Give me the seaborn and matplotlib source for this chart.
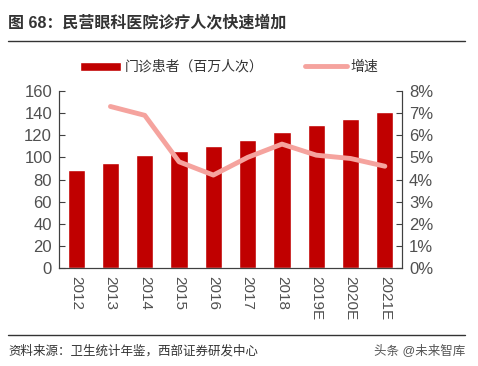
import matplotlib
matplotlib.use("Agg")
from matplotlib import pyplot as plt
import seaborn as sns
import pandas as pd
import numpy as np

years = ["2012", "2013", "2014", "2015", "2016", "2017", "2018", "2019E", "2020E", "2021E"]
visits = [89, 95, 102, 106, 110, 116, 123, 129, 135, 141]
growth = [np.nan, 7.3, 6.9, 4.8, 4.2, 5.0, 5.6, 5.1, 4.95, 4.6]

sns.set_style("white")
plt.rcParams["font.family"] = ["Liberation Sans", "Noto Sans CJK SC", "DejaVu Sans"]

df = pd.DataFrame({"year": years, "visits": visits, "growth": growth})

fig = plt.figure(figsize=(4.78, 3.66), dpi=100)
ax = fig.add_axes([59 / 478, 1 - 268 / 366, 343 / 478, 177 / 366])

sns.barplot(data=df, x="year", y="visits", color="#C00000", saturation=1,
            width=0.5, ax=ax, label="门诊患者（百万人次）")
ax2 = ax.twinx()
pos = np.arange(len(years))
sns.lineplot(x=pos, y=df["growth"], color="#F5A39E", linewidth=3.5, ax=ax2,
             label="增速", legend=False)

ax.set_xlim(-0.5, 9.5)
ax.set_ylim(0, 160)
ax.set_yticks(range(0, 161, 20))
ax2.set_ylim(0, 8)
ax2.set_yticks(range(0, 9))
ax2.set_yticklabels([f"{v}%" for v in range(0, 9)])
ax.set_xlabel("")
ax.set_ylabel("")
ax2.set_ylabel("")

tick_col = "#505050"
ax.set_xticks(pos)
ax.set_xticklabels(years, rotation=270, fontsize=11, color=tick_col)
ax.set_xticks(pos[:-1] + 0.5, minor=True)
ax.tick_params(axis="x", which="major", length=0, pad=6)
ax.tick_params(axis="x", which="minor", direction="in", length=4, color="#404040")
ax.tick_params(axis="y", direction="in", length=4, left=True, labelsize=12,
               labelcolor=tick_col, color="#404040", pad=5)
ax2.tick_params(axis="y", direction="in", length=4, right=True, labelsize=12,
                labelcolor=tick_col, color="#404040", pad=5)

for a in (ax, ax2):
    a.spines["top"].set_visible(False)
    for s in ("left", "right", "bottom"):
        a.spines[s].set_color("#404040")
        a.spines[s].set_linewidth(0.8)

h1, l1 = ax.get_legend_handles_labels()
h2, l2 = ax2.get_legend_handles_labels()
fig.legend(h1 + h2, l1 + l2, loc="center", bbox_to_anchor=(229 / 478, 1 - 67 / 366),
           ncol=2, frameon=False, fontsize=10, columnspacing=3.0,
           handlelength=3.0, handleheight=0.6, handletextpad=0.25,
           labelcolor="#333333")
if ax.get_legend() is not None:
    ax.get_legend().remove()

fig.text(8 / 478, 1 - 22 / 366, "图 68：民营眼科医院诊疗人次快速增加", fontsize=11.5,
         fontweight="bold", color="#333333", va="center")
fig.add_artist(plt.Line2D([8 / 478, 465 / 478], [1 - 41 / 366, 1 - 41 / 366],
                          color="#333333", linewidth=1))
fig.add_artist(plt.Line2D([8 / 478, 465 / 478], [1 - 335 / 366, 1 - 335 / 366],
                          color="#333333", linewidth=1))
fig.text(8 / 478, 1 - 351 / 366, "资料来源：卫生统计年鉴，西部证券研发中心", fontsize=9,
         color="#333333", va="center")
fig.text(465 / 478, 1 - 351 / 366, "头条 @未来智库", fontsize=9,
         color="#555555", va="center", ha="right")

fig.savefig("out.png", dpi=100)
